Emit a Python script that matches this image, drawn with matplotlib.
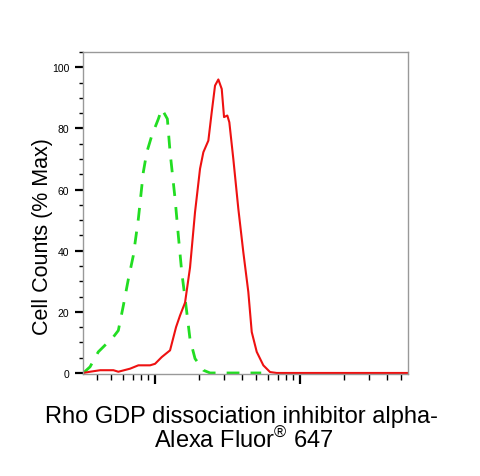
import numpy as np
import matplotlib
matplotlib.use("Agg")
import matplotlib.pyplot as plt
from matplotlib.ticker import LogLocator, MultipleLocator, NullFormatter

plt.rcParams['font.family'] = ['Liberation Sans', 'DejaVu Sans']
plt.rcParams['mathtext.fontset'] = 'custom'
plt.rcParams['mathtext.rm'] = 'Liberation Sans'

# isotype control (green dashed)
ctrl_x = [32.0, 35.6, 40.6, 51.6, 55.8, 60.4, 65.5, 70.8, 76.7, 83.0, 87.7, 94.9,
          105.4, 111.2, 121.6, 126.9, 137.4, 144.7, 152.8, 165.4, 174.3, 188.7,
          215.4, 239.5, 400.0, 540.0]
ctrl_y = [0.0, 2.0, 6.9, 11.8, 13.9, 22.0, 30.8, 38.4, 50.4, 65.7, 72.2, 77.6,
          83.1, 86.4, 83.1, 72.3, 57.0, 45.0, 33.0, 20.0, 11.0, 4.7,
          0.9, 0.0, 0.0, 0.0]

# antibody stained (red solid)
ab_x = [32.0, 35.6, 41.8, 51.6, 55.8, 67.2, 76.7, 92.4, 100.0, 111.2, 126.9,
        139.6, 148.7, 161.0, 174.3, 188.7, 204.3, 215.4, 233.2, 246.0, 259.3,
        273.3, 288.4, 299.2, 315.2, 325.4, 346.7, 375.4, 406.4, 440.0, 464.5,
        502.9, 558.5, 621.2, 690.9, 1500.0, 5560.0]
ab_y = [0.0, 0.4, 0.9, 0.9, 0.4, 1.4, 2.5, 2.5, 3.0, 5.2, 7.4,
        15.0, 18.8, 23.0, 34.5, 52.6, 66.8, 72.2, 76.0, 85.3, 94.0,
        96.0, 92.9, 83.7, 84.2, 82.0, 70.0, 53.7, 39.5, 26.5, 13.4,
        6.9, 2.5, 0.3, 0.0, 0.0, 0.0]

fig = plt.figure(figsize=(4.8, 4.77), dpi=100)
ax = fig.add_axes([0.1736, 0.2128, 0.6764, 0.6762])

ax.plot(ctrl_x, ctrl_y, color='#22dd22', linestyle=(0, (4.6, 4.0)), linewidth=2.0)
ax.plot(ab_x, ab_y, color='#ee1111', linewidth=1.5)

ax.set_xscale('log')
ax.set_xlim(32.0, 5560.0)
ax.set_ylim(-0.5, 105)

ax.xaxis.set_major_locator(LogLocator(base=10, numticks=10))
ax.xaxis.set_minor_locator(LogLocator(base=10, subs=np.arange(2, 10), numticks=20))
ax.xaxis.set_major_formatter(NullFormatter())
ax.xaxis.set_minor_formatter(NullFormatter())
ax.yaxis.set_major_locator(MultipleLocator(20))
ax.yaxis.set_minor_locator(MultipleLocator(5))

for s in ax.spines.values():
    s.set_color('#999999')
    s.set_linewidth(1.0)

ax.tick_params(axis='x', which='major', direction='out', length=7, width=1.6, color='black')
ax.tick_params(axis='x', which='minor', direction='out', length=4, width=1.0, color='black')
ax.tick_params(axis='y', which='major', direction='out', length=6, width=1.6, color='black',
               labelsize=7.5, pad=4)
ax.tick_params(axis='y', which='minor', direction='out', length=3, width=1.0, color='black')

fig.text(0.088, 0.505, 'Cell Counts (% Max)', rotation=90, ha='center', va='center', fontsize=15.5)
fig.text(0.503, 0.1132, 'Rho GDP dissociation inhibitor alpha-', ha='center', va='baseline', fontsize=17)
fig.text(0.508, 0.0608, 'Alexa Fluor$^{\\mathrm{\u00ae}}$ 647', ha='center', va='baseline', fontsize=17)

fig.savefig('out.png', dpi=100)
